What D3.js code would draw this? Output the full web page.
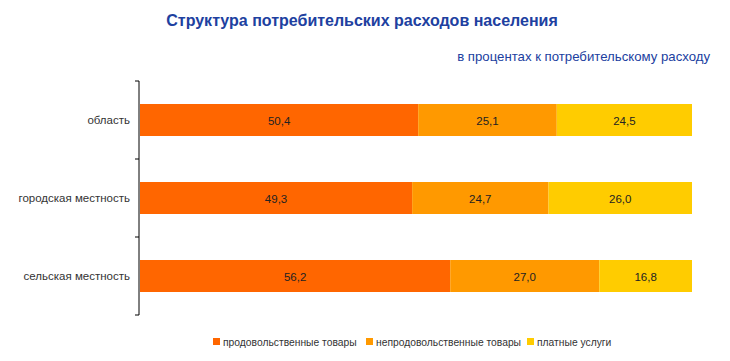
<!DOCTYPE html>
<html>
<head>
<meta charset="utf-8">
<script src="https://cdn.jsdelivr.net/npm/d3@7"></script>
<style>
  body { margin: 0; background: #fff; }
  text { font-family: "Liberation Sans", Arial, sans-serif; }
</style>
</head>
<body>
<svg width="730" height="361"></svg>
<script>
const categories = ["область", "городская местность", "сельская местность"];
const seriesNames = ["продовольственные товары", "непродовольственные товары", "платные услуги"];
const food = [50.4, 49.3, 56.2];
const nonFood = [25.1, 24.7, 27.0];
const services = [24.5, 26.0, 16.8];
const colors = ["#ff6600", "#ff9900", "#ffcc00"];

const svg = d3.select("svg");
const margin = {top: 81, left: 139, right: 38, bottom: 46};
const width = 730 - margin.left - margin.right,
  height = 361 - margin.top - margin.bottom;

const rows = categories.map((c, i) => ({cat: c, v: [food[i], nonFood[i], services[i]]}));

const x = d3.scaleLinear().domain([0, 100]).range([1, width]);
const y = d3.scaleBand().domain(categories).range([0, height]);

const g = svg.append("g").attr("transform", "translate(" + margin.left + "," + margin.top + ")");

// bars
rows.forEach(r => {
  let acc = 0;
  r.v.forEach((val, k) => {
    const x0 = x(acc), x1 = x(acc + val);
    const barH = 32;
    const yc = y(r.cat) + y.bandwidth() / 2;
    g.append("rect")
      .attr("x", x0).attr("y", yc - barH / 2)
      .attr("width", x1 - x0).attr("height", barH)
      .attr("fill", colors[k]);
    g.append("text")
      .attr("x", (x0 + x1) / 2).attr("y", yc + 5)
      .attr("text-anchor", "middle")
      .attr("font-size", 11.5)
      .attr("fill", "#222")
      .text(val.toFixed(1).replace(".", ","));
    acc += val;
  });
});

// axis
const ax = g.append("g");
ax.append("line").attr("x1", 0).attr("x2", 0).attr("y1", 0).attr("y2", height).attr("stroke", "#000");
const bounds = categories.map(c => y(c)).concat([height]);
bounds.forEach(b => {
  ax.append("line").attr("x1", -4).attr("x2", 0).attr("y1", b).attr("y2", b).attr("stroke", "#000");
});
categories.forEach(c => {
  ax.append("text")
    .attr("x", -9).attr("y", y(c) + y.bandwidth() / 2 + 4)
    .attr("text-anchor", "end")
    .attr("font-size", 11.5)
    .attr("fill", "#333")
    .text(c);
});

// titles
svg.append("text")
  .attr("x", 362).attr("y", 26)
  .attr("text-anchor", "middle")
  .attr("font-size", 16).attr("font-weight", "bold")
  .attr("fill", "#2040a0")
  .text("Структура потребительских расходов населения");
svg.append("text")
  .attr("x", 710).attr("y", 61)
  .attr("text-anchor", "end")
  .attr("font-size", 13.2)
  .attr("fill", "#2040a0")
  .text("в процентах к потребительскому расходу");

// legend
const legendX = [213, 366, 527];
seriesNames.forEach((n, k) => {
  const lg = svg.append("g").attr("transform", "translate(" + legendX[k] + ",338)");
  lg.append("rect").attr("width", 7).attr("height", 7).attr("fill", colors[k]);
  lg.append("text").attr("x", 10).attr("y", 7.5).attr("font-size", 10.3).attr("fill", "#333").text(n);
});
</script>
</body>
</html>
